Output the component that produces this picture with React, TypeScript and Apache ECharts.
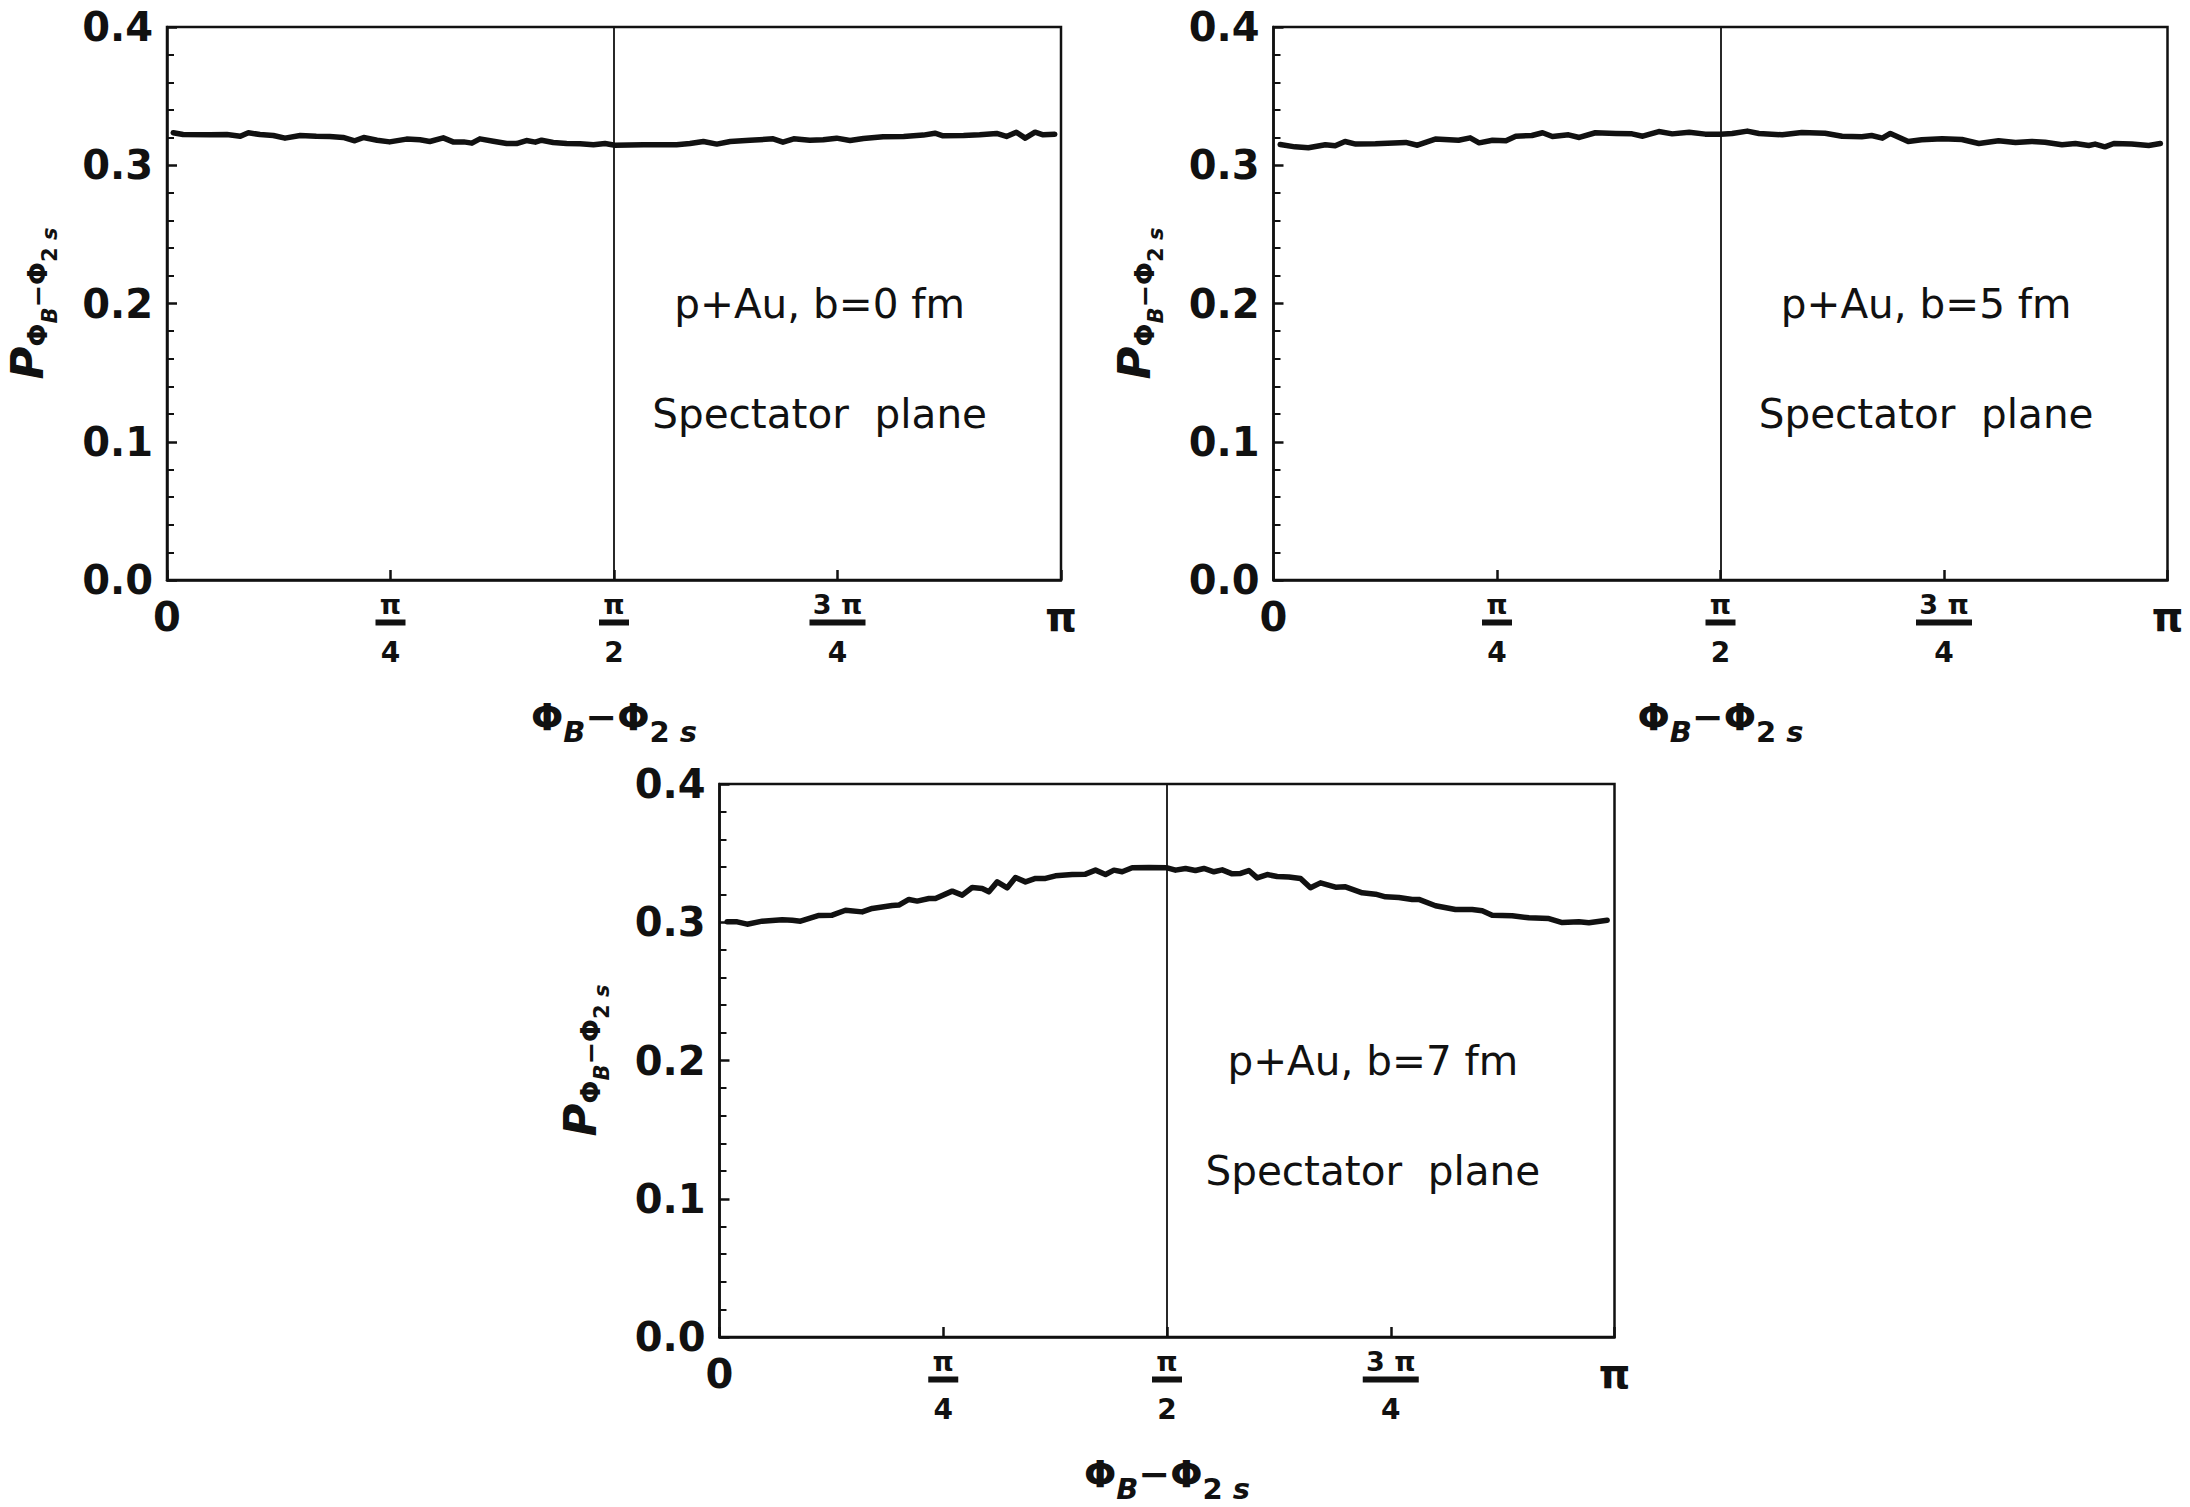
import React, { useEffect, useRef } from "react";
import * as echarts from "echarts";

// x values are in units of π (0 … 1 ⇒ 0 … π)
const p1x = [0.007,0.018,0.048,0.067,0.082,0.091,0.104,0.119,0.132,0.149,0.167,0.182,0.197,0.210,0.220,0.235,0.249,0.268,0.283,0.294,0.309,0.320,0.332,0.341,0.350,0.365,0.380,0.391,0.402,0.412,0.419,0.432,0.447,0.462,0.477,0.490,0.501,0.533,0.570,0.585,0.600,0.615,0.630,0.652,0.678,0.689,0.701,0.719,0.734,0.749,0.764,0.779,0.801,0.824,0.846,0.859,0.868,0.891,0.909,0.928,0.939,0.950,0.960,0.971,0.980,0.993];
const p1y = [0.3235,0.3222,0.3220,0.3222,0.3210,0.3235,0.3222,0.3215,0.3196,0.3215,0.3210,0.3208,0.3201,0.3177,0.3201,0.3181,0.3169,0.3189,0.3184,0.3172,0.3198,0.3169,0.3169,0.3160,0.3191,0.3174,0.3157,0.3157,0.3179,0.3167,0.3181,0.3165,0.3157,0.3155,0.3148,0.3157,0.3145,0.3148,0.3148,0.3157,0.3172,0.3153,0.3172,0.3181,0.3191,0.3167,0.3191,0.3181,0.3184,0.3196,0.3179,0.3194,0.3206,0.3208,0.3218,0.3232,0.3213,0.3215,0.3220,0.3230,0.3208,0.3239,0.3196,0.3239,0.3220,0.3225];

const p2x = [0.0075,0.024,0.039,0.058,0.069,0.080,0.092,0.114,0.148,0.161,0.181,0.207,0.220,0.230,0.245,0.260,0.271,0.289,0.301,0.312,0.330,0.342,0.360,0.383,0.401,0.413,0.431,0.446,0.465,0.483,0.500,0.513,0.530,0.543,0.569,0.591,0.617,0.636,0.658,0.669,0.681,0.690,0.710,0.725,0.748,0.770,0.789,0.811,0.830,0.848,0.863,0.882,0.897,0.912,0.919,0.930,0.940,0.960,0.979,0.992];
const p2y = [0.3150,0.3133,0.3126,0.3148,0.3141,0.3172,0.3153,0.3155,0.3165,0.3145,0.3189,0.3181,0.3198,0.3162,0.3181,0.3177,0.3210,0.3215,0.3235,0.3208,0.3220,0.3201,0.3235,0.3230,0.3227,0.3210,0.3244,0.3227,0.3239,0.3225,0.3225,0.3230,0.3247,0.3230,0.3220,0.3237,0.3232,0.3210,0.3206,0.3215,0.3196,0.3230,0.3172,0.3184,0.3191,0.3186,0.3157,0.3177,0.3165,0.3172,0.3167,0.3148,0.3157,0.3143,0.3153,0.3133,0.3157,0.3153,0.3143,0.3157];

const p3x = [0.0086,0.0198,0.0309,0.0477,0.0701,0.0812,0.0905,0.1111,0.1259,0.1408,0.1594,0.1706,0.1930,0.2004,0.2116,0.2209,0.2340,0.2413,0.2600,0.2712,0.2823,0.2935,0.3010,0.3103,0.3215,0.3307,0.3419,0.3531,0.3642,0.3754,0.3941,0.4089,0.4201,0.4313,0.4407,0.4499,0.4611,0.4798,0.5002,0.5095,0.5207,0.5318,0.5412,0.5524,0.5617,0.5728,0.5822,0.5915,0.6008,0.6120,0.6231,0.6362,0.6492,0.6603,0.6715,0.6883,0.6994,0.7181,0.7330,0.7441,0.7591,0.7740,0.7814,0.8000,0.8223,0.8410,0.8522,0.8633,0.8857,0.9044,0.9267,0.9416,0.9602,0.9714,0.9918];
const p3y = [0.3003,0.3003,0.2986,0.3008,0.3018,0.3015,0.3008,0.3049,0.3051,0.3087,0.3075,0.3100,0.3121,0.3124,0.3165,0.3153,0.3172,0.3172,0.3225,0.3196,0.3251,0.3244,0.3220,0.3292,0.3249,0.3324,0.3292,0.3317,0.3317,0.3336,0.3345,0.3348,0.3377,0.3345,0.3377,0.3365,0.3394,0.3396,0.3394,0.3377,0.3389,0.3374,0.3389,0.3365,0.3379,0.3350,0.3353,0.3374,0.3321,0.3345,0.3331,0.3328,0.3317,0.3249,0.3285,0.3254,0.3256,0.3213,0.3203,0.3184,0.3179,0.3165,0.3165,0.3119,0.3092,0.3092,0.3083,0.3051,0.3047,0.3032,0.3027,0.2998,0.3003,0.2996,0.3015];

const xTickValues = [0, 0.25, 0.5, 0.75, 1];
const xTickNum = ["0", "π", "π", "3 π", "π"];
const xTickDen = ["", "4", "2", "4", ""];
const yTickMin = 0;
const yTickMax = 0.4;
const yTickStep = 0.1;

const panelLabels = ["p+Au, b=0 fm", "p+Au, b=5 fm", "p+Au, b=7 fm"];
const planeLabel = "Spectator  plane";
const labelPos1 = [0.73, 0.2];
const labelPos2 = [0.73, 0.12];
const dividerAt = 0.5;

const FONT = "DejaVu Sans";
const INK = "#111111";

const xRich = {
  big: { fontFamily: FONT, fontWeight: "bold", fontSize: 40, lineHeight: 56, color: INK, align: "center" },
  num: { fontFamily: FONT, fontWeight: "bold", fontSize: 27, lineHeight: 31, color: INK, align: "center" },
  den: { fontFamily: FONT, fontWeight: "bold", fontSize: 28, lineHeight: 54, color: INK, align: "center" },
  bar1: { fontSize: 6, lineHeight: 6, height: 6, width: 30, backgroundColor: INK, align: "center" },
  bar3: { fontSize: 6, lineHeight: 6, height: 6, width: 56, backgroundColor: INK, align: "center" },
};

function xLabel(v: number) {
  const i = xTickValues.findIndex((t) => Math.abs(t - v) < 1e-6);
  if (i < 0) return "";
  const num = xTickNum[i];
  const den = xTickDen[i];
  if (!den) return `{big|${num}}`;
  const bar = num.length > 1 ? "bar3" : "bar1";
  return `{num|${num}}\n{${bar}|\u00a0}\n{den|${den}}`;
}

const xNameRich = {
  m: { fontFamily: FONT, fontWeight: "bold", fontSize: 38, lineHeight: 38, padding: [0, 0, 11, 0], verticalAlign: "bottom", color: INK },
  si: { fontFamily: FONT, fontWeight: "bold", fontStyle: "italic", fontSize: 29, lineHeight: 29, padding: [0, 0, 1, 0], verticalAlign: "bottom", color: INK },
  s: { fontFamily: FONT, fontWeight: "bold", fontSize: 29, lineHeight: 29, padding: [0, 0, 1, 0], verticalAlign: "bottom", color: INK },
};
const xName = "{m|Φ}{si|B}{m|−Φ}{s|2 }{si|s}";

const yNameRich = {
  P: { fontFamily: FONT, fontWeight: "bold", fontStyle: "italic", fontSize: 45, lineHeight: 45, padding: [0, 0, 10, 0], verticalAlign: "bottom", color: INK },
  a: { fontFamily: FONT, fontWeight: "bold", fontSize: 27, lineHeight: 27, padding: [0, 0, 9, 0], verticalAlign: "bottom", color: INK },
  bi: { fontFamily: FONT, fontWeight: "bold", fontStyle: "italic", fontSize: 21, lineHeight: 21, padding: [0, 0, 0, 0], verticalAlign: "bottom", color: INK },
  b: { fontFamily: FONT, fontWeight: "bold", fontSize: 21, lineHeight: 21, padding: [0, 0, 0, 0], verticalAlign: "bottom", color: INK },
};
const yName = "{P|P}{a|Φ}{bi|B}{a|−Φ}{b|2 }{bi|s}";

const grids = [
  { left: 167, top: 27, width: 894, height: 553 },
  { left: 1273.5, top: 27, width: 894, height: 553 },
  { left: 719.5, top: 784, width: 895, height: 553 },
];

export default function App() {
  const ref = useRef<HTMLDivElement>(null);
  useEffect(() => {
    if (!ref.current) return;
    const chart = echarts.init(ref.current, undefined, { renderer: "svg" });
    const datasets = [
      [p1x, p1y],
      [p2x, p2y],
      [p3x, p3y],
    ];

    const option: any = {
      animation: false,
      backgroundColor: "#ffffff",
      grid: grids.map((g) => ({
        ...g,
        show: true,
        borderColor: INK,
        borderWidth: 2.5,
        backgroundColor: "transparent",
        containLabel: false,
      })),
      xAxis: grids.map((_, gi) => ({
        type: "value",
        gridIndex: gi,
        min: 0,
        max: 1,
        interval: 0.25,
        axisLine: { show: true, lineStyle: { color: INK, width: 2.5 } },
        axisTick: { show: true, inside: true, length: 10, lineStyle: { color: INK, width: 2.5 } },
        splitLine: { show: false },
        axisLabel: {
          show: true,
          margin: 8.5,
          verticalAlign: "top",
          showMinLabel: true,
          showMaxLabel: true,
          formatter: (v: number) => xLabel(v),
          rich: xRich,
        },
        name: xName,
        nameLocation: "middle",
        nameGap: 129,
        nameTextStyle: { rich: xNameRich },
      })),
      yAxis: grids.map((_, gi) => ({
        type: "value",
        gridIndex: gi,
        min: yTickMin,
        max: yTickMax,
        interval: yTickStep,
        axisLine: { show: true, lineStyle: { color: INK, width: 2.5 } },
        axisTick: { show: true, inside: true, length: 10, lineStyle: { color: INK, width: 2.5 } },
        minorTick: { show: true, splitNumber: 5, length: 7, lineStyle: { color: INK, width: 2 } },
        splitLine: { show: false },
        minorSplitLine: { show: false },
        axisLabel: {
          show: true,
          margin: 14,
          formatter: (v: number) => v.toFixed(1),
          fontFamily: FONT,
          fontWeight: "bold",
          fontSize: 40,
          color: INK,
        },
        name: yName,
        nameLocation: "middle",
        nameRotate: 90,
        nameGap: 107,
        nameTextStyle: { rich: yNameRich },
      })),
      series: datasets.map(([xs, ys], gi) => ({
        type: "line",
        xAxisIndex: gi,
        yAxisIndex: gi,
        data: xs.map((x, i) => [x, ys[i]]),
        showSymbol: false,
        symbol: "none",
        lineStyle: { color: INK, width: 5.5, join: "round", cap: "round" },
        silent: true,
        markLine: {
          silent: true,
          symbol: ["none", "none"],
          label: { show: false },
          lineStyle: { color: INK, width: 1.8, type: "solid" },
          data: [{ xAxis: dividerAt }],
        },
        markPoint: {
          silent: true,
          symbol: "circle",
          symbolSize: 1,
          itemStyle: { color: "rgba(0,0,0,0)" },
          label: {
            show: true,
            position: "inside",
            fontFamily: FONT,
            fontSize: 40.5,
            color: INK,
          },
          data: [
            { coord: labelPos1, value: 0, label: { formatter: panelLabels[gi] } },
            { coord: labelPos2, value: 0, label: { formatter: planeLabel } },
          ],
        },
      })),
    };
    chart.setOption(option);
    return () => chart.dispose();
  }, []);
  return (
    <div
      ref={ref}
      style={{ position: "absolute", left: 0, top: 0, width: 2190, height: 1507, background: "#fff" }}
    />
  );
}
